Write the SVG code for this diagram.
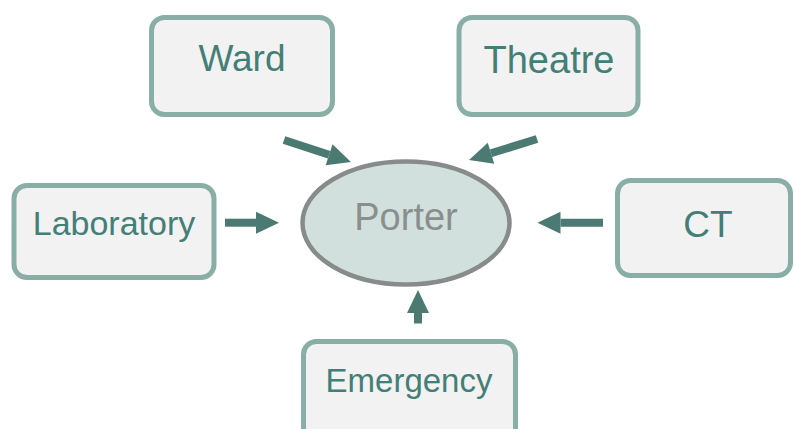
<svg xmlns="http://www.w3.org/2000/svg" width="794" height="429" viewBox="0 0 794 429">
  <style>
    .box { fill: #f2f2f2; stroke: #88aea6; stroke-width: 5; }
    .label { font-family: "Liberation Sans", Arial, sans-serif; fill: #437f76; text-anchor: middle; }
    .hub { fill: #d1e0dd; stroke: #878c8a; stroke-width: 4.5; }
    .hub-label { font-family: "Liberation Sans", Arial, sans-serif; fill: #8a8f8d; text-anchor: middle; }
    .flow { fill: none; stroke: #4b7a73; stroke-width: 8; stroke-linecap: butt; marker-end: url(#head); }
  </style>
  <defs>
    <marker id="head" markerUnits="userSpaceOnUse" markerWidth="24" markerHeight="22" refX="0" refY="11" orient="auto" overflow="visible">
      <path d="M0,0 L23,11 L0,22 z" fill="#4b7a73"/>
    </marker>
  </defs>

  <rect width="794" height="429" fill="#ffffff"/>

  <!-- connectors: each department feeds the porter -->
  <g id="connectors">
    <path class="flow" d="M284,140 L329.1,154.8"/>
    <path class="flow" d="M537,139 L491,153.2"/>
    <path class="flow" d="M225,222.7 L256,222.7"/>
    <path class="flow" d="M603,222.7 L560.5,222.7"/>
    <path class="flow" d="M418,323.5 L418,313"/>
  </g>

  <g id="porter">
    <ellipse class="hub" cx="406" cy="223" rx="103.5" ry="61.5"/>
    <text class="hub-label" x="406" y="230" font-size="38">Porter</text>
  </g>

  <g id="ward">
    <rect class="box" x="151.5" y="17.5" width="181" height="97" rx="13"/>
    <text class="label" x="242" y="71" font-size="37">Ward</text>
  </g>

  <g id="theatre">
    <rect class="box" x="459" y="17.5" width="179" height="97" rx="13"/>
    <text class="label" x="549" y="73" font-size="38">Theatre</text>
  </g>

  <g id="laboratory">
    <rect class="box" x="14" y="185.5" width="200" height="92" rx="13"/>
    <text class="label" x="114" y="235" font-size="34">Laboratory</text>
  </g>

  <g id="ct">
    <rect class="box" x="617.5" y="180.5" width="173" height="95" rx="13"/>
    <text class="label" x="708" y="237" font-size="37">CT</text>
  </g>

  <g id="emergency">
    <rect class="box" x="303.5" y="341.5" width="212" height="100" rx="13"/>
    <text class="label" x="409" y="392" font-size="33">Emergency</text>
  </g>
</svg>
